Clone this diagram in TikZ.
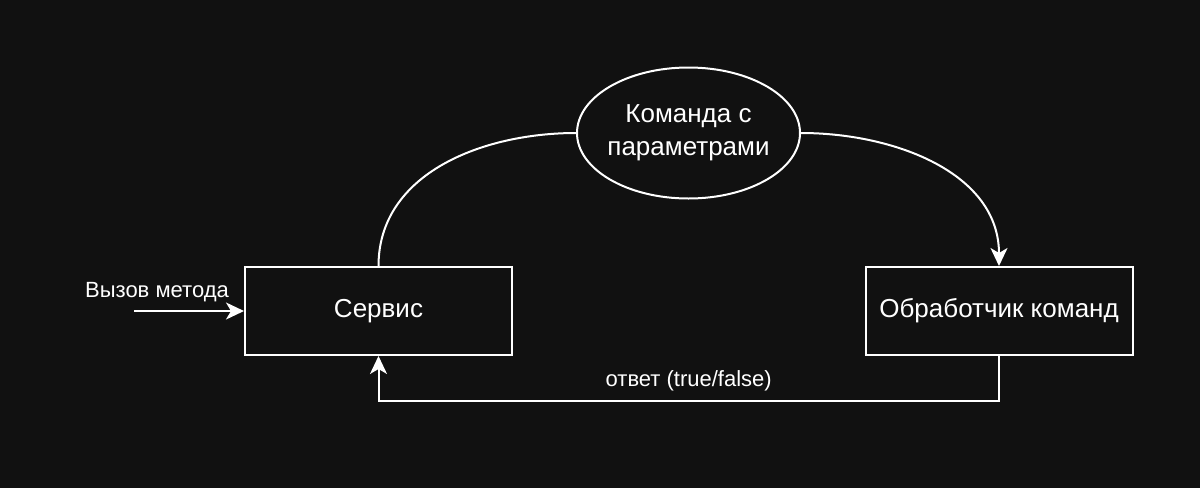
\documentclass[tikz,border=0pt]{standalone}
\usepackage{fontspec}
\setmainfont{Liberation Sans}
\usetikzlibrary{shapes.geometric,arrows.meta}
\definecolor{bg}{HTML}{111111}
\tikzset{
  box/.style={draw=white,line width=2pt,fill=bg,minimum width=267pt,minimum height=88pt,inner sep=0pt,
    text=white,font=\fontsize{26}{30}\selectfont},
  cmd/.style={ellipse,draw=white,line width=2pt,fill=bg,minimum width=223pt,minimum height=131pt,
    inner xsep=-12pt,inner ysep=0pt,text=white,align=center,font=\fontsize{26}{33}\selectfont},
  link/.style={draw=white,line width=2pt},
  tip/.style={-{Stealth[length=18pt,width=17pt,inset=5pt]}},
  lbl/.style={text=white,font=\fontsize{22}{26}\selectfont,inner sep=0pt}
}
\begin{document}
\begin{tikzpicture}[x=1pt,y=-1pt]
  \fill[bg] (0,0) rectangle (1200,488);
  \useasboundingbox (0,0) rectangle (1200,488);
  \node[box] (service) at (378.5,311) {Сервис};
  \node[box] (handler) at (999,311) {Обработчик команд};
  \node[cmd] (command) at (688.5,133) {Команда с\\параметрами};
  \coordinate (call) at (134,311);
  \node[lbl] (calllbl) at (157,292) {Вызов метода};
  \draw[link,tip] (call) -- (service.west);
  \draw[link] (service.north) to[out=90,in=180] (command.west);
  \draw[link,tip] (command.east) to[out=0,in=90] (handler.north);
  \draw[link,tip] (handler.south) -- ++(0,45) -| (service.south)
    node[lbl,pos=0.25,above=9pt] (answer) {ответ (true/false)};
\end{tikzpicture}
\end{document}
